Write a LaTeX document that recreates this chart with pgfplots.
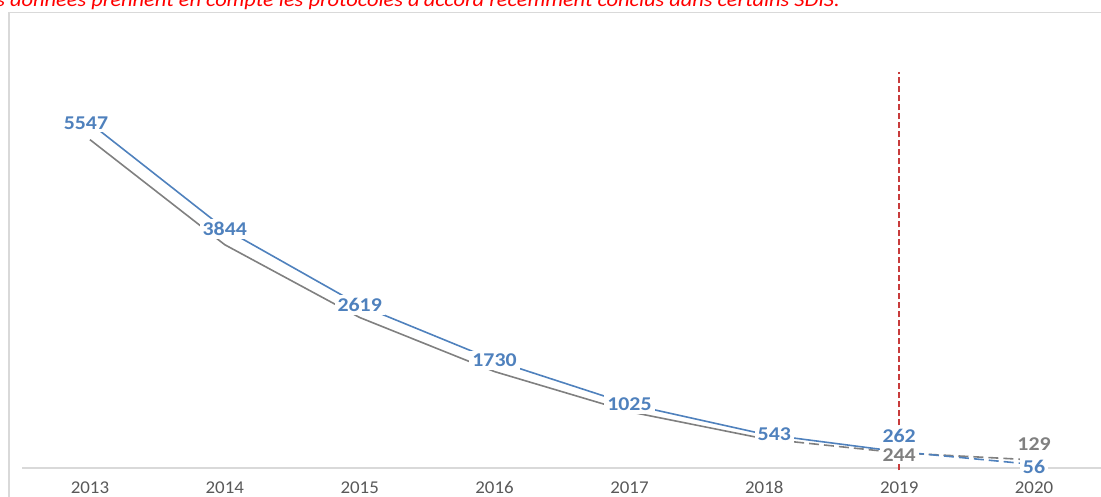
\documentclass[border=0pt]{standalone}
\usepackage{fontspec}
\setmainfont{Carlito}
\usepackage{graphicx}
\usepackage{pgfplots}
\pgfplotsset{compat=1.18}
\definecolor{lblue}{RGB}{79,129,189}
\definecolor{lgray}{RGB}{128,128,128}
\definecolor{tgray}{RGB}{89,89,89}
\definecolor{dred}{RGB}{200,60,60}
\definecolor{framec}{RGB}{217,217,217}
\newcommand\sx[1]{\scalebox{1.12}[1]{#1}}
\newcommand\tx[1]{\scalebox{1.05}[1]{#1}}

\begin{document}
\begin{tikzpicture}[x=1pt,y=1pt,
  lab/.style={fill=white, inner sep=3pt, font=\bfseries\fontsize{19.5}{22}\selectfont, text=lblue},
  glab/.style={fill=white, inner sep=3pt, font=\bfseries\fontsize{19.5}{22}\selectfont, text=lgray}]
\begin{scope}
\clip (0,0) rectangle (1101,497);
\draw[framec, line width=1.5pt] (9,-20) |- (1130,484.5);
\node[anchor=base east, text=red, font=\fontsize{20}{23}\selectfont\itshape, inner sep=0pt]
  at (840,490) {\sx{Ces données prennent en compte les protocoles d’accord récemment conclus dans certains SDIS.}};
\begin{axis}[
  scale only axis, width=1079pt, height=398pt,
  at={(22.5pt,29pt)}, anchor=south west,
  xmin=2012.5, xmax=2020.5, ymin=0, ymax=6400,
  axis x line=bottom, axis y line=none,
  axis line style={-, draw=framec, line width=1.2pt},
  xtick={2013,2014,2015,2016,2017,2018,2019,2020},
  xticklabels={\tx{2013},\tx{2014},\tx{2015},\tx{2016},\tx{2017},\tx{2018},\tx{2019},\tx{2020}},
  major tick length=0pt,
  xticklabel style={font=\fontsize{18}{20}\selectfont, text=tgray,
    text height=11pt, text depth=0pt, anchor=north, yshift=-11pt},
  clip=false,
  every axis plot/.append style={line width=1.6pt, no marks},
]
% gray series
\addplot[lgray] coordinates
  {(2013,5280) (2014,3590) (2015,2420) (2016,1550) (2017,905) (2018,470)};
\addplot[lgray, dash pattern=on 10pt off 5pt] coordinates
  {(2018,470) (2019,244) (2020,129)};
% blue series
\addplot[lblue] coordinates
  {(2013,5547) (2014,3844) (2015,2619) (2016,1730) (2017,1025) (2018,543) (2019,262)};
\addplot[lblue, dash pattern=on 10pt off 5pt] coordinates
  {(2019,262) (2020,56)};
% red marker line
\addplot[dred, line width=2.4pt, dash pattern=on 6pt off 3pt] coordinates
  {(2019,-40) (2019,6368)};
% labels
\node[lab, xshift=-4pt] at (axis cs:2013,5547) {\sx{5547}};
\node[lab] at (axis cs:2014,3844) {\sx{3844}};
\node[lab] at (axis cs:2015,2619) {\sx{2619}};
\node[lab] at (axis cs:2016,1730) {\sx{1730}};
\node[lab] at (axis cs:2017,1025) {\sx{1025}};
\node[lab, xshift=10pt] at (axis cs:2018,543) {\sx{543}};
\node[lab, yshift=16pt] at (axis cs:2019,262) {\sx{262}};
\node[glab, yshift=-2pt] at (axis cs:2019,244) {\sx{244}};
\node[glab, yshift=16pt] at (axis cs:2020,129) {\sx{129}};
\node[lab, yshift=-2pt] at (axis cs:2020,56) {\sx{56}};
\end{axis}
\end{scope}
\pgfresetboundingbox
\useasboundingbox (0,0) rectangle (1101,497);
\end{tikzpicture}
\end{document}
